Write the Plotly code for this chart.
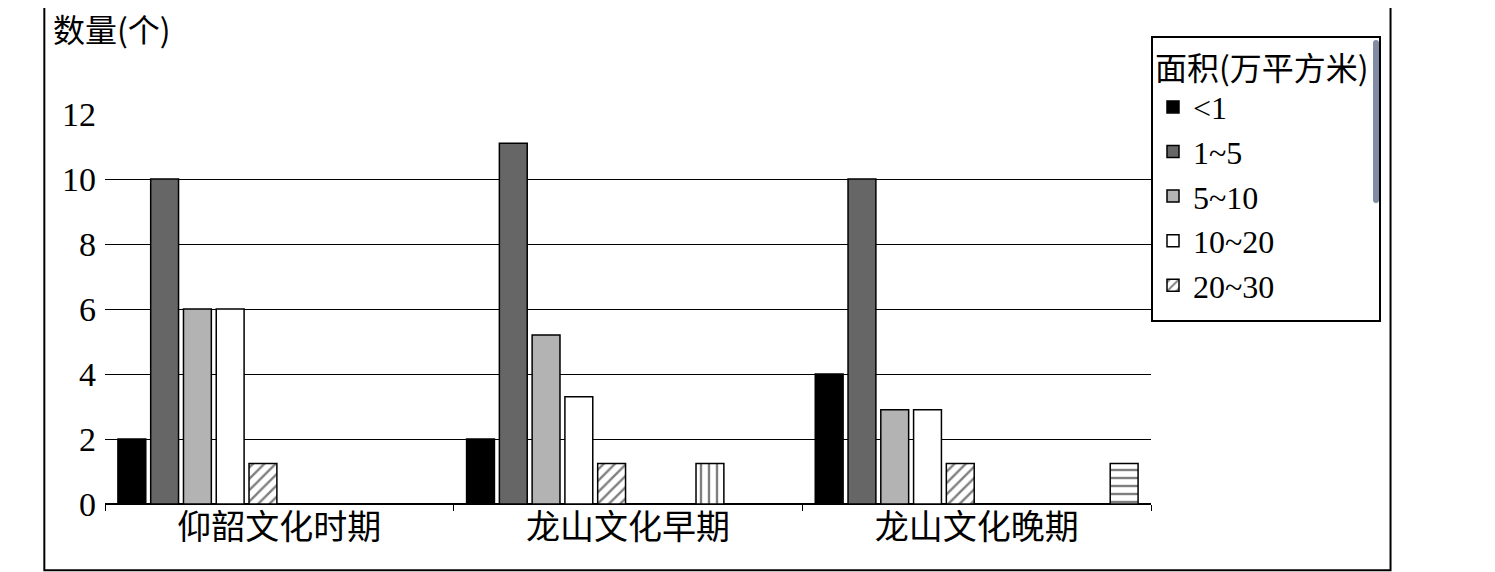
import plotly.graph_objects as go

categories = ["仰韶文化时期", "龙山文化早期", "龙山文化晚期"]
series_names = ["<1", "1~5", "5~10", "10~20", "20~30", "30~40", "40~50", "50~60", "60~70", "70~80"]
values = [
    [2, 2, 4],
    [10, 11.1, 10],
    [6, 5.2, 2.9],
    [6, 3.3, 2.9],
    [1.25, 1.25, 1.25],
    [0, 0, 0],
    [0, 0, 0],
    [0, 1.25, 0],
    [0, 0, 0],
    [0, 0, 1.25],
]
colors = ["black", "#666666", "#b3b3b3", "white", "white", "white", "white", "white", "white", "white"]
patterns = ["", "", "", "", "/", "+", "x", "|", "", "-"]

FONT = "Liberation Serif, Noto Serif CJK SC, Noto Sans CJK SC"
fig = go.Figure()
for name, vals, c, p in zip(series_names, values, colors, patterns):
    fig.add_trace(go.Bar(
        x=categories, y=vals, name=name,
        marker=dict(color=c, line=dict(color="black", width=1.5),
                    pattern=dict(shape=p, fgcolor="black", bgcolor="white", size=8, solidity=0.3)),
    ))

fig.update_layout(
    width=1495, height=572, barmode="group", bargap=0.06, bargroupgap=0.15,
    margin=dict(l=97, r=352, t=106, b=76),
    plot_bgcolor="white", paper_bgcolor="white",
    font=dict(family=FONT, size=32, color="black"),
    xaxis=dict(showline=False, ticks="outside", tickson="boundaries", ticklen=6,
               tickcolor="black", tickfont=dict(size=34, family="Noto Sans CJK SC")),
    yaxis=dict(range=[0, 12], dtick=2, showgrid=True, gridcolor="black", gridwidth=1.2,
               zeroline=True, zerolinecolor="black", zerolinewidth=1.5, ticks="",
               tickfont=dict(size=34), ticklabelstandoff=8),
    legend=dict(x=1.0, xanchor="left", y=1.2, yanchor="top", bordercolor="black", borderwidth=2,
                title=dict(text="面积(万平方米)", font=dict(size=32, family="Noto Sans CJK SC")),
                font=dict(size=32), tracegroupgap=0, itemwidth=30, bgcolor="white"),
    shapes=[dict(type="rect", xref="paper", yref="paper", x0=-0.058, x1=1.229, y0=-0.17, y1=1.29,
                 line=dict(color="black", width=2))],
    annotations=[dict(text="数量(个)", xref="paper", yref="paper", x=-0.052, y=1.22, xanchor="left",
                      yanchor="middle", showarrow=False, font=dict(size=32, family="Noto Sans CJK SC"))],
)
fig.write_html("out.html")
